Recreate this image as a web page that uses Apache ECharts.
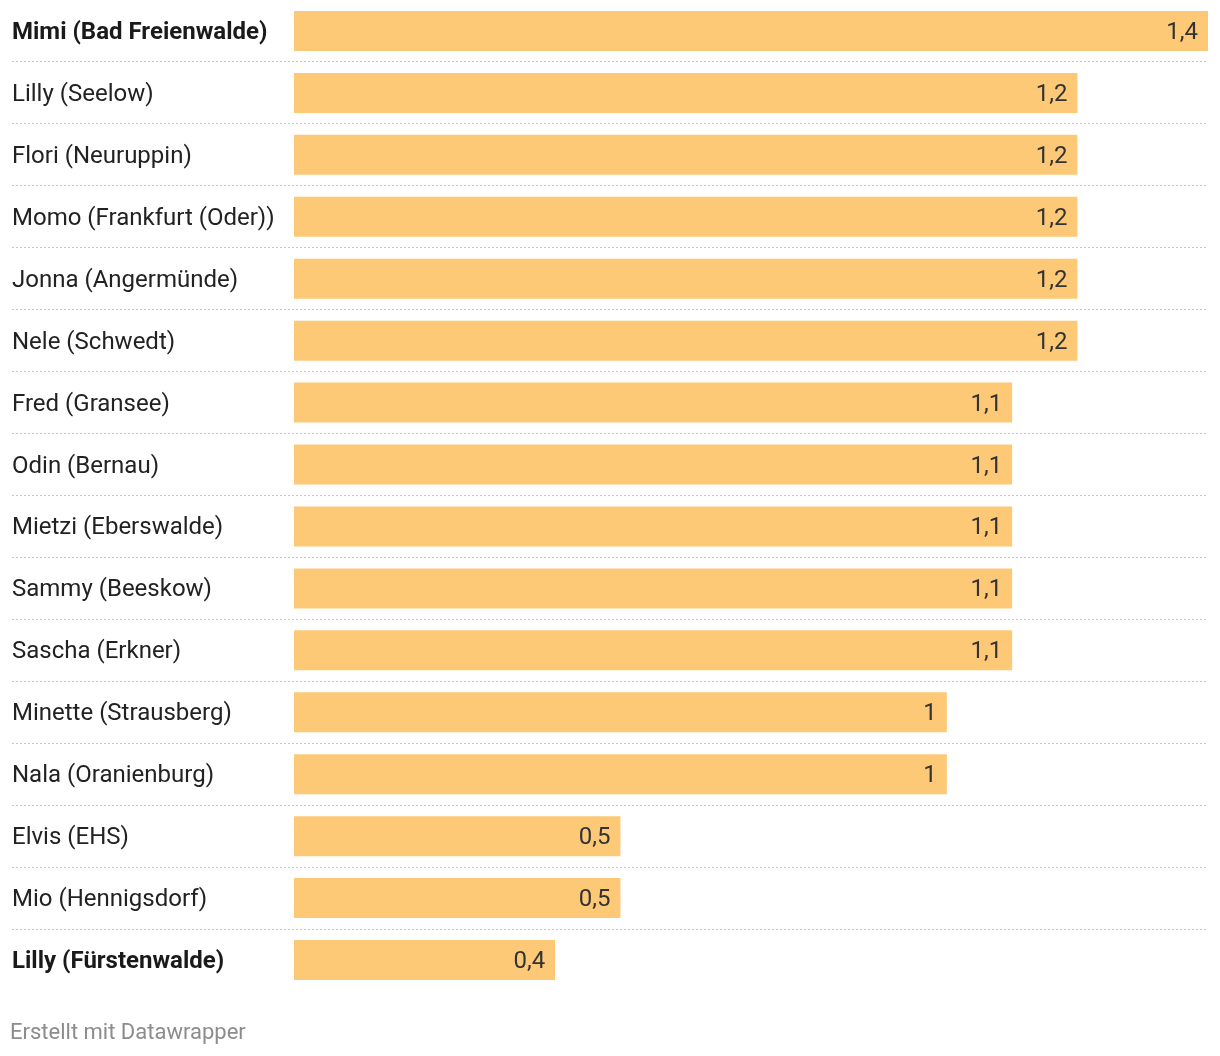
<!DOCTYPE html>
<html><head><meta charset="utf-8">
<script src="https://cdn.jsdelivr.net/npm/echarts@6/dist/echarts.min.js"></script>
<style>html,body{margin:0;padding:0;background:#fff}#c{width:1220px;height:1056px}</style>
</head><body><div id="c"></div>
<script>
const categories = ["Mimi (Bad Freienwalde)","Lilly (Seelow)","Flori (Neuruppin)","Momo (Frankfurt (Oder))","Jonna (Angermünde)","Nele (Schwedt)","Fred (Gransee)","Odin (Bernau)","Mietzi (Eberswalde)","Sammy (Beeskow)","Sascha (Erkner)","Minette (Strausberg)","Nala (Oranienburg)","Elvis (EHS)","Mio (Hennigsdorf)","Lilly (Fürstenwalde)"];
const values = [1.4,1.2,1.2,1.2,1.2,1.2,1.1,1.1,1.1,1.1,1.1,1.0,1.0,0.5,0.5,0.4];
const boldLabels = ["Mimi (Bad Freienwalde)","Lilly (Fürstenwalde)"];
const footer = "Erstellt mit Datawrapper";

const chart = echarts.init(document.getElementById('c'));
const FONT = 'Roboto';
chart.setOption({
  animation:false,
  grid:[
    {left:294,right:12,top:-1,height:992},
    {left:12,right:12,top:61,height:868}
  ],
  xAxis:[
    {gridIndex:0,type:'value',min:0,max:1.4,show:false},
    {gridIndex:1,type:'value',min:0,max:1,show:false}
  ],
  yAxis:[
    {gridIndex:0,type:'category',data:categories,inverse:true,
     axisLine:{show:false},axisTick:{show:false},splitLine:{show:false},
     axisLabel:{align:'left',margin:282,fontFamily:FONT,fontSize:24,color:'#222',padding:[4,0,0,0],
       formatter:v=>boldLabels.includes(v)?'{b|'+v+'}':v,
       rich:{b:{fontFamily:FONT,fontSize:24,fontWeight:'bold',color:'#1a1a1a'}}}},
    {gridIndex:1,type:'value',min:0,max:14,interval:1,
     axisLine:{show:false},axisTick:{show:false},axisLabel:{show:false},
     splitLine:{show:true,lineStyle:{color:'#c8c8c8',type:[2,2],width:1}}}
  ],
  series:[
    {type:'bar',xAxisIndex:0,yAxisIndex:0,data:values,barWidth:40,
     itemStyle:{color:'#fec977'},
     label:{show:true,position:'insideRight',distance:10,offset:[0,2],fontFamily:FONT,fontSize:24,color:'#333',
       formatter:p=>String(p.value).replace('.',',')}},
    {type:'line',xAxisIndex:1,yAxisIndex:1,data:[],silent:true}
  ],
  graphic:[{type:'text',left:10,top:1022,style:{text:footer,fontFamily:FONT,fontSize:22,fill:'#8c8c8c'}}]
});
</script></body></html>
